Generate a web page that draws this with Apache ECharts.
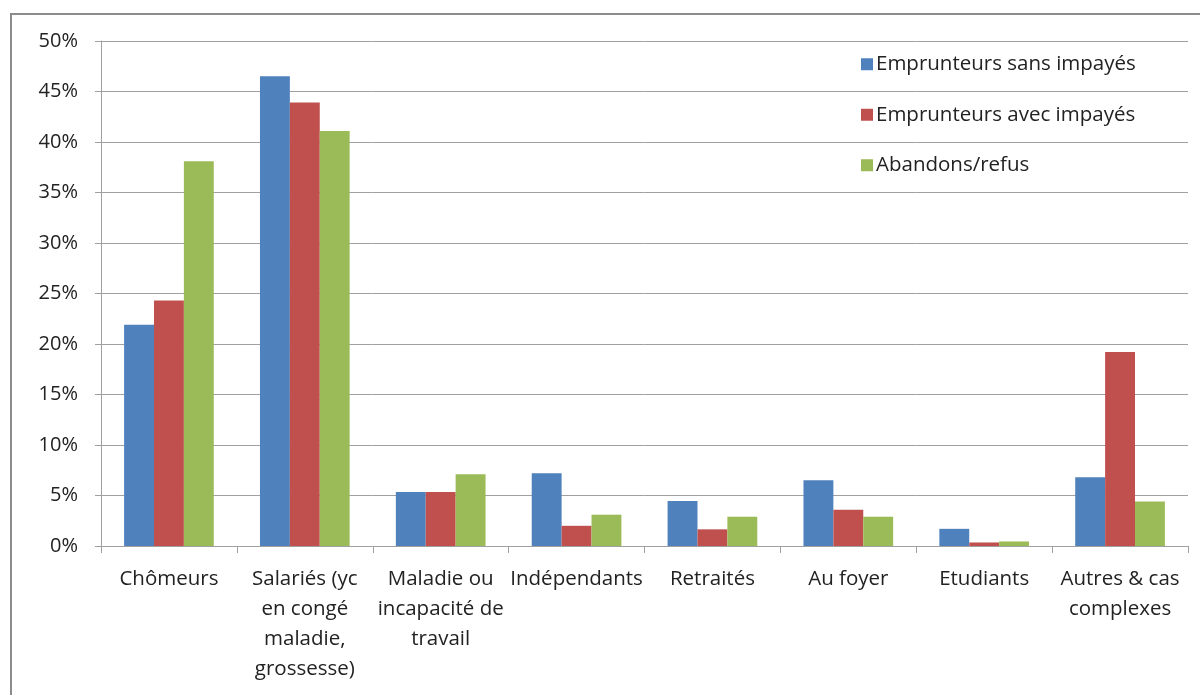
<!DOCTYPE html>
<html>
<head>
<meta charset="utf-8">
<script src="https://cdn.jsdelivr.net/npm/echarts@6/dist/echarts.min.js"></script>
<style>html,body{margin:0;padding:0;background:#fff;}#c{width:1200px;height:695px;}</style>
</head>
<body>
<div id="c"></div>
<script>
const categories = ["Chômeurs", "Salariés (yc\nen congé\nmaladie,\ngrossesse)", "Maladie ou\nincapacité de\ntravail", "Indépendants", "Retraités", "Au foyer", "Etudiants", "Autres & cas\ncomplexes"];
const seriesNames = ["Emprunteurs sans impayés", "Emprunteurs avec impayés", "Abandons/refus"];
const sansImpayes = [21.9, 46.5, 5.35, 7.2, 4.45, 6.5, 1.7, 6.8];
const avecImpayes = [24.3, 43.9, 5.35, 2.0, 1.65, 3.6, 0.35, 19.2];
const abandons = [38.1, 41.1, 7.1, 3.1, 2.9, 2.9, 0.45, 4.4];
const colors = ["#4F81BD", "#C0504D", "#9BBB59"];
const font = "'Open Sans', Lato, sans-serif";

const chart = echarts.init(document.getElementById('c'), null, {renderer: 'canvas'});
const data = [sansImpayes, avecImpayes, abandons];
chart.setOption({
  animation: false,
  backgroundColor: '#fff',
  textStyle: {fontFamily: font},
  graphic: [{
    type: 'rect', shape: {x: 11, y: 14, width: 1200, height: 700},
    style: {fill: 'none', stroke: '#8c8c8c', lineWidth: 2}, silent: true
  }],
  legend: {
    orient: 'vertical', left: 856, top: 48,
    itemWidth: 12, itemHeight: 12, itemGap: 28,
    icon: 'rect',
    textStyle: {fontFamily: font, fontSize: 20.5, color: '#222', lineHeight: 22.5, padding: [0,0,0,-2]},
    data: seriesNames
  },
  grid: {left: 101, right: 12, top: 41, bottom: 149},
  xAxis: {
    type: 'category', data: categories,
    axisLine: {lineStyle: {color: '#a0a0a0', width: 1}},
    axisTick: {show: true, length: 7, lineStyle: {color: '#a0a0a0'}},
    axisLabel: {fontFamily: font, fontSize: 20.5, color: '#222', lineHeight: 30, margin: 18, interval: 0},
    splitLine: {show: false}
  },
  yAxis: {
    type: 'value', min: 0, max: 50, interval: 5,
    axisLine: {show: true, lineStyle: {color: '#a0a0a0', width: 1}},
    axisTick: {show: true, length: 6, lineStyle: {color: '#a0a0a0'}},
    axisLabel: {fontFamily: font, fontSize: 20, color: '#222', margin: 23, formatter: '{value}%'},
    splitLine: {show: true, lineStyle: {color: '#a0a0a0', width: 1}}
  },
  series: seriesNames.map((n, i) => ({
    name: n, type: 'bar', data: data[i],
    barGap: '0%', barCategoryGap: '34%',
    itemStyle: {color: colors[i]}
  }))
});
</script>
</body>
</html>
